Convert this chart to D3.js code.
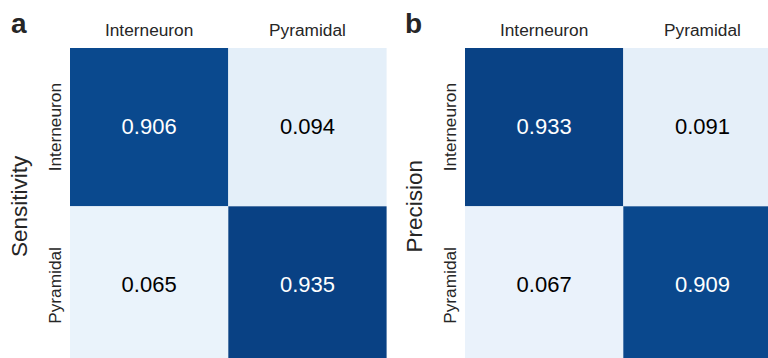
<!DOCTYPE html>
<html>
<head>
<meta charset="utf-8">
<script src="https://cdn.jsdelivr.net/npm/d3@7"></script>
<style>
  html, body { margin: 0; padding: 0; background: #fff; overflow: hidden; }
  svg { display: block; font-family: "Liberation Sans", Arial, sans-serif; }
</style>
</head>
<body>
<svg id="chart" width="768" height="358"></svg>
<script>
// Cell classes (rows = true class, columns = predicted class)
const classes = ["Interneuron", "Pyramidal"];

// Normalised confusion matrices, row-major
const sensitivityValues = [
  [0.906, 0.094],
  [0.065, 0.935]
];
const precisionValues = [
  [0.933, 0.091],
  [0.067, 0.909]
];

const panelLetters = ["a", "b"];
const panelTitles = ["Sensitivity", "Precision"];

const svg = d3.select("#chart");
const color = d3.scaleSequential(d3.interpolateBlues).domain([0, 1]);

const cellSize = 158.3;
const panels = [
  { x0: 70,  y0: 48, values: sensitivityValues, title: panelTitles[0], letter: panelLetters[0], letterX: 11 },
  { x0: 465, y0: 48, values: precisionValues,   title: panelTitles[1], letter: panelLetters[1], letterX: 405 }
];

panels.forEach(p => {
  const g = svg.append("g");
  const x = d3.scaleBand().domain(classes).range([p.x0, p.x0 + cellSize * 2]);
  const y = d3.scaleBand().domain(classes).range([p.y0, p.y0 + cellSize * 2]);

  const cells = [];
  p.values.forEach((row, i) => row.forEach((v, j) => cells.push({ r: classes[i], c: classes[j], v })));

  g.selectAll("rect.cell").data(cells).enter().append("rect")
    .attr("class", "cell")
    .attr("x", d => x(d.c))
    .attr("y", d => y(d.r))
    .attr("width", x.bandwidth())
    .attr("height", y.bandwidth())
    .attr("fill", d => color(d.v));

  g.selectAll("text.val").data(cells).enter().append("text")
    .attr("class", "val")
    .attr("x", d => x(d.c) + x.bandwidth() / 2)
    .attr("y", d => y(d.r) + y.bandwidth() / 2 - 1)
    .attr("dy", "0.35em")
    .attr("text-anchor", "middle")
    .attr("font-size", 22)
    .attr("fill", d => d.v > 0.5 ? "#ffffff" : "#000000")
    .text(d => d3.format(".3f")(d.v));

  // column labels on top
  g.selectAll("text.col").data(classes).enter().append("text")
    .attr("class", "col")
    .attr("x", d => x(d) + x.bandwidth() / 2)
    .attr("y", 36)
    .attr("text-anchor", "middle")
    .attr("font-size", 17.3)
    .attr("fill", "#262626")
    .text(d => d);

  // row labels, rotated
  g.selectAll("text.row").data(classes).enter().append("text")
    .attr("class", "row")
    .attr("transform", d => `translate(${p.x0 - 9.5},${y(d) + y.bandwidth() / 2}) rotate(-90)`)
    .attr("text-anchor", "middle")
    .attr("font-size", 17.3)
    .attr("fill", "#262626")
    .text(d => d);

  // axis title
  g.append("text")
    .attr("transform", `translate(${p.x0 - 43},${p.y0 + cellSize}) rotate(-90)`)
    .attr("text-anchor", "middle")
    .attr("font-size", 22.5)
    .attr("fill", "#262626")
    .text(p.title);

  // panel letter
  g.append("text")
    .attr("x", p.letterX)
    .attr("y", 33)
    .attr("font-size", 28)
    .attr("font-weight", "bold")
    .attr("fill", "#262626")
    .text(p.letter);
});
</script>
</body>
</html>
